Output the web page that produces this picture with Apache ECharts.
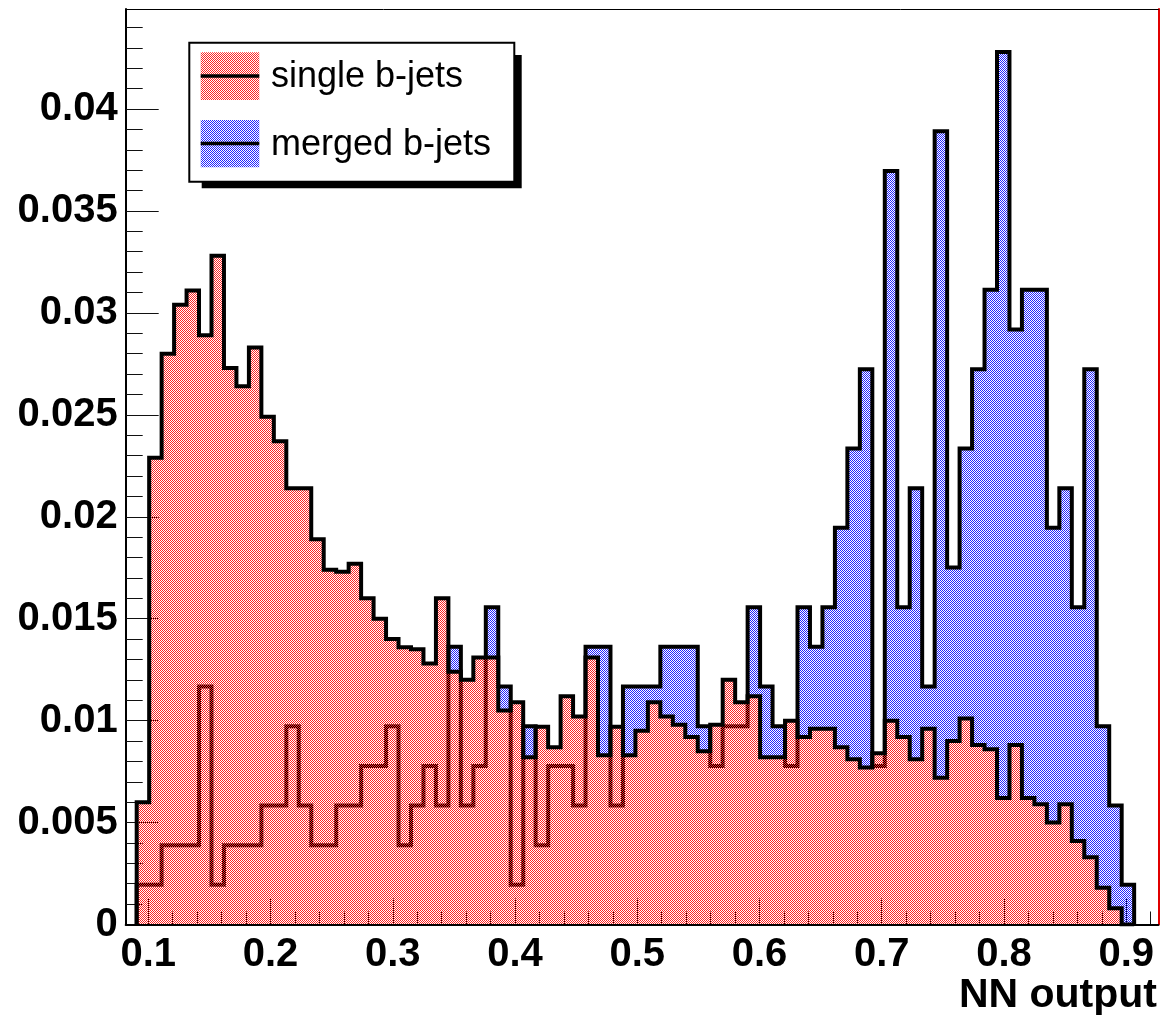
<!DOCTYPE html>
<html>
<head>
<meta charset="utf-8">
<script src="https://cdn.jsdelivr.net/npm/echarts@6/dist/echarts.min.js"></script>
<style>
html,body{margin:0;padding:0;background:#fff;}
#chart{width:1166px;height:1020px;}
</style>
</head>
<body>
<div id="chart"></div>
<script>
// ---- data ----
const binStart = 0.0905;   // lower edge of first filled bin
const binWidth = 0.0102;   // histogram bin width
const singleBJets = [
  0.0060,0.0229,0.0280,0.0304,0.0311,0.0289,0.0328,0.0273,0.0264,0.0283,
  0.0249,0.0237,0.0214,0.0214,0.0189,0.0174,0.0173,0.0177,0.0160,0.0150,
  0.0140,0.0136,0.0135,0.0128,0.0160,0.0124,0.0120,0.0131,0.0131,0.0105,
  0.0109,0.0082,0.0097,0.0087,0.0112,0.0102,0.0131,0.0083,0.0097,0.0083,
  0.0095,0.0109,0.0102,0.0098,0.0092,0.0085,0.0098,0.0120,0.0109,0.0112,
  0.0082,0.0082,0.0100,0.0092,0.0096,0.0096,0.0087,0.0081,0.0077,0.0084,
  0.0100,0.0092,0.0081,0.0096,0.0072,0.0090,0.0101,0.0088,0.0086,0.0062,
  0.0088,0.0062,0.0059,0.0050,0.0059,0.0041,0.0033,0.0018,0.0008,0.0000
];
const mergedBJets = [
  0.00195,0.00195,0.00389,0.00389,0.00389,0.01167,0.00195,0.00389,0.00389,0.00389,
  0.00584,0.00584,0.00973,0.00584,0.00389,0.00389,0.00584,0.00584,0.00778,0.00778,
  0.00973,0.00389,0.00584,0.00778,0.00584,0.01362,0.00584,0.00778,0.01556,0.01167,
  0.00195,0.00973,0.00389,0.00778,0.00778,0.00584,0.01362,0.01362,0.00584,0.01167,
  0.01167,0.01167,0.01362,0.01362,0.01362,0.00973,0.00778,0.00973,0.00973,0.01556,
  0.01167,0.00973,0.00778,0.01556,0.01362,0.01556,0.01946,0.02335,0.02724,0.00778,
  0.03696,0.01556,0.02140,0.01167,0.03891,0.01751,0.02335,0.02724,0.03113,0.04280,
  0.02918,0.03113,0.03113,0.01946,0.02140,0.01556,0.02724,0.00973,0.00584,0.00195
];
const seriesNames = ['single b-jets', 'merged b-jets'];
const xRange = [0.08151, 0.92626];
const yRange = [0, 0.044906];
const xTickValues = [0.1,0.2,0.3,0.4,0.5,0.6,0.7,0.8,0.9];
const xTickLabels = ['0.1','0.2','0.3','0.4','0.5','0.6','0.7','0.8','0.9'];
const yTickValues = [0,0.005,0.01,0.015,0.02,0.025,0.03,0.035,0.04];
const yTickLabels = ['0','0.005','0.01','0.015','0.02','0.025','0.03','0.035','0.04'];
const xTitle = 'NN output';

// minor tick positions (axis decoration)
const xMinor = []; for (let k = 6; k <= 46; k++) if (k % 5) xMinor.push(k / 50);
const yMinor = []; for (let k = 1; k <= 44; k++) if (k % 5) yMinor.push(k / 1000);

// histogram outline points (step line through bin edges)
function histPoints(vals) {
  const pts = [[binStart, 0]];
  for (let i = 0; i < vals.length; i++) pts.push([binStart + i * binWidth, vals[i]]);
  const end = binStart + vals.length * binWidth;
  pts.push([end, vals[vals.length - 1]]);
  pts.push([end, 0]);
  return pts;
}

// ROOT-like checker fill pattern (half of pixels coloured, rest transparent)
function checker(color) {
  const c = document.createElement('canvas');
  c.width = 2; c.height = 2;
  const ctx = c.getContext('2d');
  ctx.fillStyle = color;
  ctx.fillRect(0, 0, 1, 1);
  ctx.fillRect(1, 1, 1, 1);
  return c;
}
const redPat = { image: checker('#ff2424'), repeat: 'repeat' };
const bluePat = { image: checker('#2424ff'), repeat: 'repeat' };

const FONT = '"Liberation Sans", Arial, Helvetica, sans-serif';
function lab(list, vals) {
  return function (v) {
    let best = 0, bd = 1e9;
    vals.forEach((t, i) => { const d = Math.abs(t - v); if (d < bd) { bd = d; best = i; } });
    return list[best];
  };
}

const chart = echarts.init(document.getElementById('chart'), null, { renderer: 'canvas' });
const L = 125.7, R = 1158.3, T = 9, B = 924.5;
chart.setOption({
  animation: false,
  backgroundColor: '#fff',
  grid: { left: L, top: T, width: R - L, height: B - T, containLabel: false },
  xAxis: [
    { type: 'value', min: xRange[0], max: xRange[1], position: 'bottom',
      axisLine: { show: false }, splitLine: { show: false },
      axisTick: { show: true, inside: true, length: 26, customValues: xTickValues,
                  lineStyle: { color: '#111', width: 1 } },
      axisLabel: { show: true, customValues: xTickValues, formatter: lab(xTickLabels, xTickValues),
                   margin: 10, color: '#000', fontSize: 40, fontWeight: 'bold', fontFamily: FONT } },
    { type: 'value', min: xRange[0], max: xRange[1], position: 'bottom',
      axisLine: { show: false }, splitLine: { show: false }, axisLabel: { show: false },
      axisTick: { show: true, inside: true, length: 13, customValues: xMinor,
                  lineStyle: { color: '#111', width: 1 } } },
    { type: 'value', min: xRange[0], max: xRange[1], position: 'bottom', z: 10,
      axisLine: { show: true, lineStyle: { color: '#000', width: 2 } },
      splitLine: { show: false }, axisLabel: { show: false }, axisTick: { show: false } },
    { type: 'value', min: xRange[0], max: xRange[1], position: 'top',
      axisLine: { show: true, lineStyle: { color: '#000', width: 1 } },
      splitLine: { show: false }, axisLabel: { show: false }, axisTick: { show: false } }
  ],
  yAxis: [
    { type: 'value', min: yRange[0], max: yRange[1], position: 'left',
      axisLine: { show: true, lineStyle: { color: '#000', width: 2 } }, splitLine: { show: false },
      axisTick: { show: true, inside: true, length: 33, customValues: yTickValues,
                  lineStyle: { color: '#111', width: 1 } },
      axisLabel: { show: true, customValues: yTickValues, formatter: lab(yTickLabels, yTickValues),
                   margin: 8, padding: [9, 0, 0, 0], color: '#000', fontSize: 40, fontWeight: 'bold', fontFamily: FONT } },
    { type: 'value', min: yRange[0], max: yRange[1], position: 'left',
      axisLine: { show: false }, splitLine: { show: false }, axisLabel: { show: false },
      axisTick: { show: true, inside: true, length: 17, customValues: yMinor,
                  lineStyle: { color: '#111', width: 1 } } },
    { type: 'value', min: yRange[0], max: yRange[1], position: 'right',
      axisLine: { show: true, lineStyle: { color: '#e00000', width: 2 } },
      splitLine: { show: false }, axisLabel: { show: false }, axisTick: { show: false } }
  ],
  series: [
    { name: seriesNames[1], type: 'line', step: 'end', xAxisIndex: 0, yAxisIndex: 0,
      data: histPoints(mergedBJets), showSymbol: false, symbol: 'none', z: 2,
      lineStyle: { color: '#000', width: 4, join: 'miter' },
      areaStyle: { color: bluePat, opacity: 1 } },
    { name: seriesNames[0], type: 'line', step: 'end', xAxisIndex: 0, yAxisIndex: 0,
      data: histPoints(singleBJets), showSymbol: false, symbol: 'none', z: 3,
      lineStyle: { color: '#000', width: 4, join: 'miter' },
      areaStyle: { color: redPat, opacity: 1 } }
  ],
  graphic: [
    { type: 'rect', z: 100, shape: { x: 201.7, y: 55, width: 320, height: 133.3 }, style: { fill: '#000' } },
    { type: 'rect', z: 101, shape: { x: 189.3, y: 42.7, width: 325, height: 139 },
      style: { fill: '#fff', stroke: '#000', lineWidth: 2 } },
    { type: 'rect', z: 102, shape: { x: 200.7, y: 52.3, width: 58.6, height: 47.7 }, style: { fill: redPat } },
    { type: 'line', z: 103, shape: { x1: 200.7, y1: 76, x2: 259.3, y2: 76 }, style: { stroke: '#000', lineWidth: 3.5 } },
    { type: 'text', z: 103, x: 271, y: 77, style: { text: seriesNames[0], font: '36px ' + FONT, fill: '#000', verticalAlign: 'middle' } },
    { type: 'rect', z: 102, shape: { x: 200.7, y: 120, width: 58.6, height: 47.3 }, style: { fill: bluePat } },
    { type: 'line', z: 103, shape: { x1: 200.7, y1: 143.6, x2: 259.3, y2: 143.6 }, style: { stroke: '#000', lineWidth: 3.5 } },
    { type: 'text', z: 103, x: 271, y: 145, style: { text: seriesNames[1], font: '36px ' + FONT, fill: '#000', verticalAlign: 'middle' } },
    { type: 'text', z: 103, x: 1157, y: 1016, style: { text: xTitle, font: 'bold 41px ' + FONT, fill: '#000', align: 'right', verticalAlign: 'bottom' } }
  ]
});
</script>
</body>
</html>
